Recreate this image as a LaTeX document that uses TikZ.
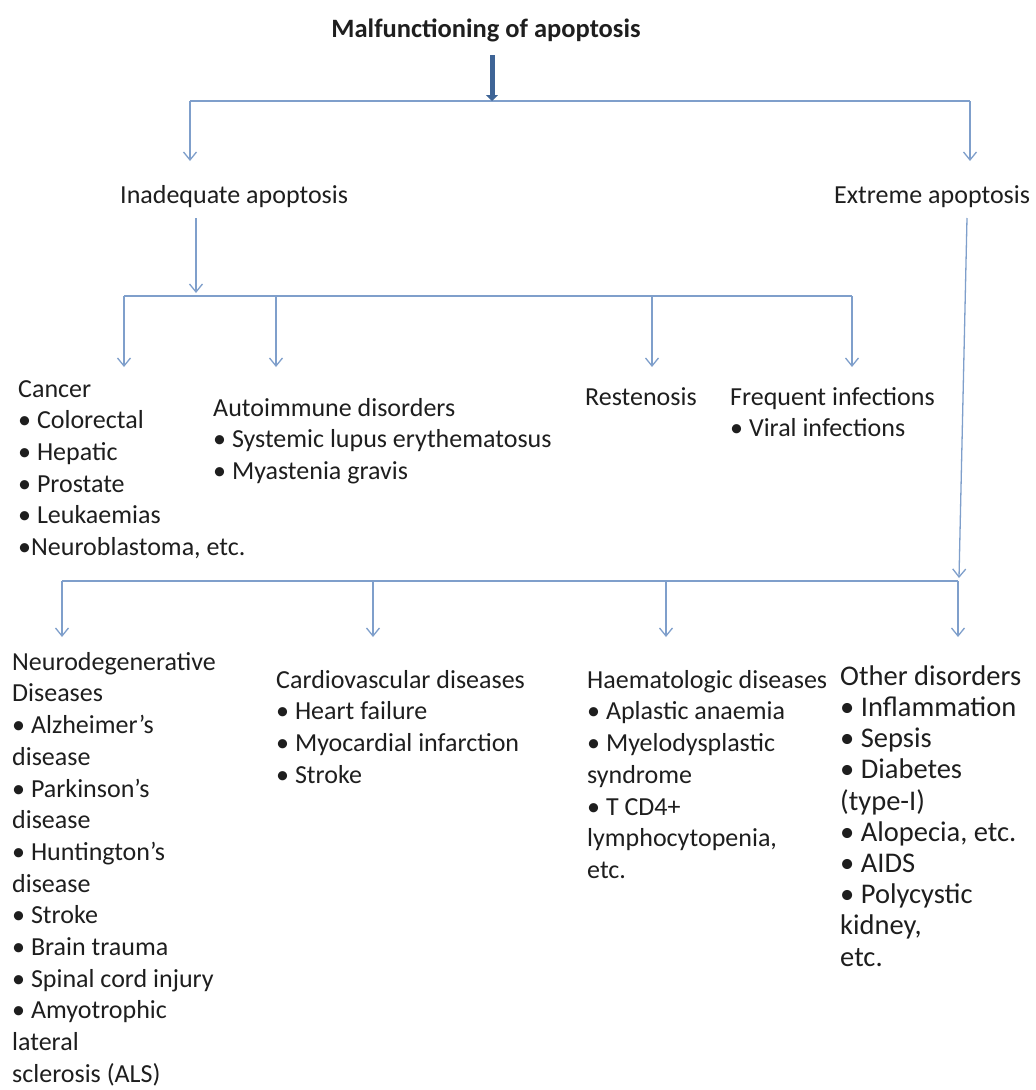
\documentclass[tikz,border=0pt]{standalone}
\usepackage{fontspec}
\setmainfont{Carlito}
\usetikzlibrary{arrows.meta}
\definecolor{linec}{HTML}{7F9FCB}
\definecolor{darkarrow}{HTML}{3E6496}
\definecolor{txt}{HTML}{1E1E1E}
\begin{document}
\begin{tikzpicture}[x=1pt,y=-1pt,
  lbl/.style={anchor=north west, inner sep=0pt, align=left, text=txt,
              font=\fontsize{26}{31.7}\selectfont},
  biglbl/.style={lbl, font=\fontsize{28.5}{31.2}\selectfont},
  conn/.style={draw=linec, line width=1.3pt},
  arr/.style={conn, -{Straight Barb[length=8pt,width=13pt]}},
  bigarr/.style={draw=darkarrow, line width=5pt, -{Triangle[length=6pt,width=12pt]}}
]
\useasboundingbox (0,0) rectangle (1036,1090);

% title
\node[anchor=base, inner sep=0pt, text=txt, font=\fontsize{26.5}{30}\selectfont\bfseries] (title) at (486,37) {Malfunctioning of apoptosis};

% level 1
\node[lbl] (inad) at (120,180.8) {\strut Inadequate apoptosis};
\node[lbl] (extr) at (834,180.8) {\strut Extreme apoptosis};

% level 2
\node[lbl] (cancer) at (18,374.8) {\strut Cancer\\• Colorectal\\• Hepatic\\• Prostate\\• Leukaemias\\•Neuroblastoma, etc.};
\node[lbl] (auto) at (213,393.8) {\strut Autoimmune disorders\\• Systemic lupus erythematosus\\• Myastenia gravis};
\node[lbl] (resten) at (585,382.8) {\strut Restenosis};
\node[lbl] (freq) at (730,382.8) {\strut Frequent infections\\• Viral infections};

% level 3
\node[lbl] (neuro) at (12,647.8) {\strut Neurodegenerative\\Diseases\\• Alzheimer’s\\disease\\• Parkinson’s\\disease\\• Huntington’s\\disease\\• Stroke\\• Brain trauma\\• Spinal cord injury\\• Amyotrophic\\lateral\\sclerosis (ALS)};
\node[lbl] (cardio) at (276,665.8) {\strut Cardiovascular diseases\\• Heart failure\\• Myocardial infarction\\• Stroke};
\node[lbl] (haem) at (587,665.8) {\strut Haematologic diseases\\• Aplastic anaemia\\• Myelodysplastic\\syndrome\\• T CD4+\\lymphocytopenia,\\etc.};
\node[biglbl] (other) at (840,663.2) {\strut Other disorders\\• Inflammation\\• Sepsis\\• Diabetes\\(type-I)\\• Alopecia, etc.\\• AIDS\\• Polycystic\\kidney,\\etc.};

% coordinates
\coordinate (a0) at (492,55);
\coordinate (b1m) at (492,101);
\coordinate (b1l) at (190,101);
\coordinate (b1r) at (970,101);
\coordinate (t1l) at (190,161);
\coordinate (t1r) at (970,161);

\coordinate (s2) at (196,218);
\coordinate (t2) at (196,293);
\coordinate (b2l) at (124,296);
\coordinate (b2r) at (852,296);
\coordinate (b2a) at (276,296);
\coordinate (b2b) at (652,296);
\coordinate (t2l) at (124,367);
\coordinate (t2a) at (276,367);
\coordinate (t2b) at (652,367);
\coordinate (t2r) at (852,367);

\coordinate (s3) at (967,218);
\coordinate (t3) at (959,578);
\coordinate (b3l) at (62,581);
\coordinate (b3r) at (958,581);
\coordinate (b3a) at (373,581);
\coordinate (b3b) at (666,581);
\coordinate (t3l) at (62,637);
\coordinate (t3a) at (373,637);
\coordinate (t3b) at (666,637);
\coordinate (t3r) at (958,637);

% connectors
\draw[conn] (b1l) -- (b1r);
\draw[arr] (b1l) -- (t1l);
\draw[arr] (b1r) -- (t1r);
\draw[bigarr] (a0) -- (b1m);

\draw[arr] (s2) -- (t2);
\draw[conn] (b2l) -- (b2r);
\draw[arr] (b2l) -- (t2l);
\draw[arr] (b2a) -- (t2a);
\draw[arr] (b2b) -- (t2b);
\draw[arr] (b2r) -- (t2r);

\draw[arr] (s3) -- (t3);
\draw[conn] (b3l) -- (b3r);
\draw[arr] (b3l) -- (t3l);
\draw[arr] (b3a) -- (t3a);
\draw[arr] (b3b) -- (t3b);
\draw[arr] (b3r) -- (t3r);
\end{tikzpicture}
\end{document}
